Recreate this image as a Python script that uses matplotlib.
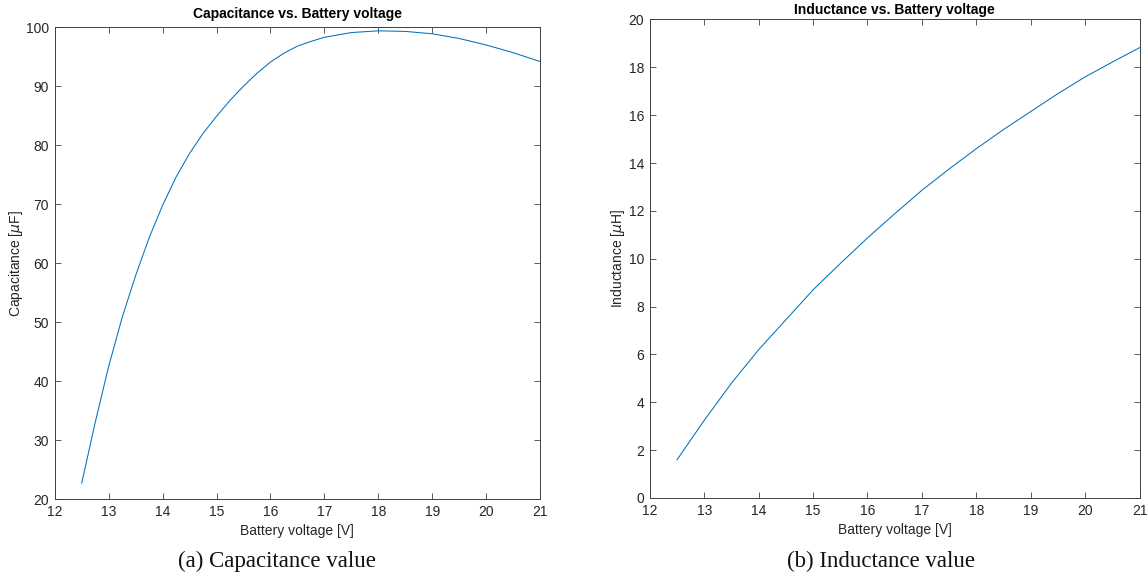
import matplotlib
matplotlib.use('Agg')
import matplotlib.pyplot as plt

# Values
voltage_c = [12.5, 12.75, 13.0, 13.25, 13.5, 13.75, 14.0, 14.25, 14.5, 14.75,
             15.0, 15.25, 15.5, 15.75, 16.0, 16.25, 16.5, 16.75, 17.0, 17.5,
             18.0, 18.5, 19.0, 19.5, 20.0, 20.5, 21.0]
capacitance = [22.7, 33.0, 42.5, 50.8, 57.9, 64.3, 69.8, 74.6, 78.6, 82.0,
               84.9, 87.6, 90.0, 92.2, 94.1, 95.6, 96.8, 97.6, 98.3, 99.1,
               99.4, 99.3, 98.9, 98.1, 97.0, 95.7, 94.2]

voltage_l = [12.5, 13.0, 13.5, 14.0, 14.5, 15.0, 15.5, 16.0, 16.5, 17.0,
             17.5, 18.0, 18.5, 19.0, 19.5, 20.0, 20.5, 21.0]
inductance = [1.6, 3.25, 4.8, 6.2, 7.45, 8.7, 9.8, 10.87, 11.88, 12.86,
              13.75, 14.6, 15.4, 16.15, 16.9, 17.6, 18.22, 18.82]

x_ticks = list(range(12, 22))
c_ticks = list(range(20, 101, 10))
l_ticks = list(range(0, 21, 2))

line_color = '#0072BD'
axis_color = '#404040'
text_color = '#262626'

plt.rcParams['font.family'] = ['Liberation Sans', 'DejaVu Sans']

fig = plt.figure(figsize=(11.48, 5.73), dpi=100)


# MATLAB-like axes styling
def style_axes(ax):
    for spine in ax.spines.values():
        spine.set_color(axis_color)
        spine.set_linewidth(0.7)
    ax.tick_params(direction='in', top=True, right=True, length=4, width=0.6,
                   color=axis_color, labelcolor=text_color, labelsize=10, pad=4)


ax1 = fig.add_axes([0.0477, 0.1291, 0.4227, 0.8233])
ax1.plot(voltage_c, capacitance, color=line_color, linewidth=0.75)
ax1.set_xlim(12, 21)
ax1.set_ylim(20, 100)
ax1.set_xticks(x_ticks)
ax1.set_yticks(c_ticks)
style_axes(ax1)
ax1.set_title('Capacitance vs. Battery voltage', fontsize=10, fontweight='bold', pad=7)
ax1.set_xlabel('Battery voltage [V]', fontsize=10, color=text_color, labelpad=4)
ax1.set_ylabel('Capacitance [$\\mu$F]', fontsize=10, color=text_color, labelpad=1)

ax2 = fig.add_axes([0.5661, 0.1309, 0.4265, 0.8351])
ax2.plot(voltage_l, inductance, color=line_color, linewidth=0.75)
ax2.set_xlim(12, 21)
ax2.set_ylim(0, 20)
ax2.set_xticks(x_ticks)
ax2.set_yticks(l_ticks)
style_axes(ax2)
ax2.set_title('Inductance vs. Battery voltage', fontsize=10, fontweight='bold', pad=4)
ax2.set_xlabel('Battery voltage [V]', fontsize=10, color=text_color, labelpad=4)
ax2.set_ylabel('Inductance [$\\mu$H]', fontsize=10, color=text_color, labelpad=1)

# Sub-figure captions
fig.text(0.241, 0.021, '(a) Capacitance value', fontsize=16.5, family='Liberation Serif',
         ha='center', va='center', color='#111111')
fig.text(0.767, 0.021, '(b) Inductance value', fontsize=16.5, family='Liberation Serif',
         ha='center', va='center', color='#111111')

fig.savefig('out.png', dpi=100)
